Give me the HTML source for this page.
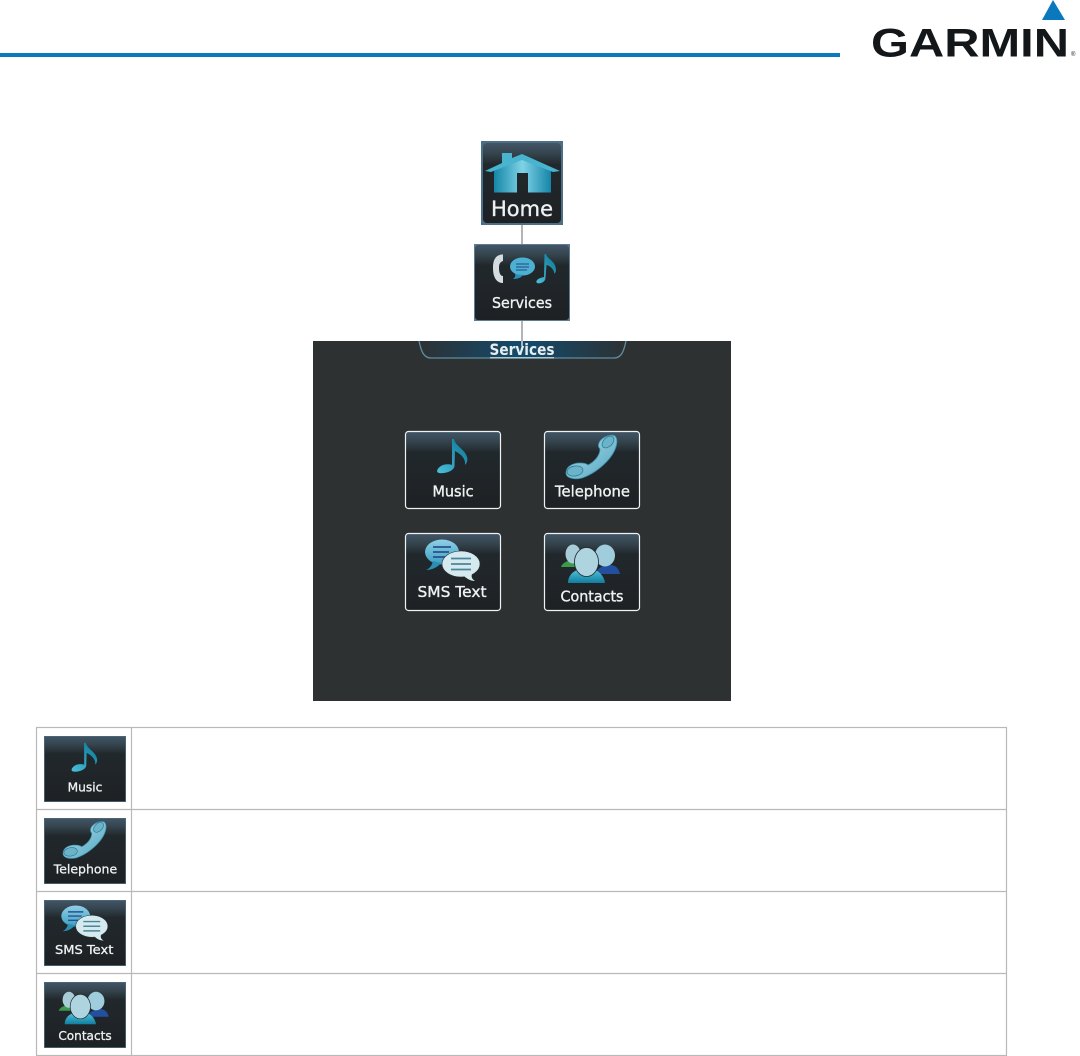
<!DOCTYPE html>
<html><head><meta charset="utf-8"><title>Services</title>
<style>html,body{margin:0;padding:0;background:#fff;width:1080px;height:1056px;overflow:hidden}svg{display:block}text{font-family:"DejaVu Sans","Liberation Sans",sans-serif}.l{fill:#eef2f2;stroke:#eef2f2;stroke-width:.35}</style>
</head><body>
<svg xmlns="http://www.w3.org/2000/svg" width="1080" height="1056" viewBox="0 0 1080 1056">
<defs>
<linearGradient id="btn" x1="0" y1="0" x2="0" y2="1"><stop offset="0" stop-color="#425668"/><stop offset=".12" stop-color="#36464f"/><stop offset=".27" stop-color="#21282c"/><stop offset="1" stop-color="#1e2124"/></linearGradient>
<linearGradient id="teal" x1="0" y1="0" x2="0" y2="1"><stop offset="0" stop-color="#57c3dc"/><stop offset="1" stop-color="#0f7f9f"/></linearGradient>
<linearGradient id="house" x1="0" y1="0" x2="1" y2="0"><stop offset="0" stop-color="#1585a8"/><stop offset=".5" stop-color="#7fd3e6"/><stop offset="1" stop-color="#1585a8"/></linearGradient>
<linearGradient id="pale" x1="0" y1="0" x2="1" y2="1"><stop offset="0" stop-color="#b4dce8"/><stop offset="1" stop-color="#4fa6c2"/></linearGradient>
<linearGradient id="bub" x1="0" y1="0" x2="0" y2="1"><stop offset="0" stop-color="#8fd0e6"/><stop offset="1" stop-color="#3a9fc4"/></linearGradient>
<linearGradient id="tab" x1="0" y1="0" x2="1" y2="0"><stop offset="0" stop-color="#2d3133"/><stop offset=".5" stop-color="#134b6e"/><stop offset="1" stop-color="#2d3133"/></linearGradient>
<linearGradient id="note" x1="0" y1="1" x2="1" y2="0"><stop offset="0" stop-color="#4cc0da"/><stop offset="1" stop-color="#0a7593"/></linearGradient>

<symbol id="i-music" viewBox="0 0 96 78" overflow="visible">
<path d="M47 8 L49 8 C50 15 60 18 62 26 C63 29 62 32 60 34 C61 28 56 23 50 20 L49.500 35 C49 40 40 43 34 42 C30 41 33 36 38 34 C41 33 45 33 47 34 Z" fill="url(#note)"/>
<text class="l" x="48" y="65.500" font-size="15" text-anchor="middle" textLength="41" lengthAdjust="spacingAndGlyphs">Music</text>
</symbol>
<symbol id="i-tel" viewBox="0 0 96 78" overflow="visible">
<path d="M22 42 C22 36 28 32 36 32 C40 32 43 33 44 34 C50 31 56 25 56 18 C54 16 54 13 56 10 C60 5 68 3 71 5 C75 9 72 18 68 24 C62 33 50 43 38 47 C30 49 22 47 22 42 Z" fill="url(#pale)" stroke="#3d93ad" stroke-width=".8"/>
<ellipse cx="64" cy="11" rx="7" ry="4.500" fill="#6db3c7" stroke="#2b7d98" stroke-width=".8" transform="rotate(-45 64 11)"/>
<ellipse cx="31" cy="40" rx="8" ry="5" fill="#6db3c7" stroke="#2b7d98" stroke-width=".8" transform="rotate(-10 31 40)"/>
<text class="l" x="48.500" y="65.500" font-size="15" text-anchor="middle" textLength="75" lengthAdjust="spacingAndGlyphs">Telephone</text>
</symbol>
<symbol id="i-sms" viewBox="0 0 96 78" overflow="visible">
<ellipse cx="37" cy="19" rx="17" ry="12.500" fill="url(#bub)"/>
<path d="M28 28 C27 33 24 36 21 37 C27 37 33 34 36 30 Z" fill="#2b8fb3"/>
<path d="M28 14 H46 M28 19 H44 M28 24 H42" stroke="#2d4f8c" stroke-width="1.700"/>
<ellipse cx="56" cy="31" rx="19" ry="13" fill="#d4eaee" stroke="#2d3133" stroke-width=".6"/>
<path d="M59 43 C62 46 66 48 70 48 C67 46 66 44 67 41 Z" fill="#d4eaee"/>
<path d="M46 25.500 H66 M46 31 H66 M46 36.500 H66" stroke="#4d8598" stroke-width="1.700"/>
<text class="l" x="47" y="64" font-size="15" text-anchor="middle" textLength="69" lengthAdjust="spacingAndGlyphs">SMS Text</text>
</symbol>
<symbol id="i-con" viewBox="0 0 96 78" overflow="visible">
<path d="M17 34 C18 30 24 27 30 27 L33 34 Z" fill="#3d9a4c"/>
<path d="M51 41 C54 34 60 32 66 32 C72 32 75 36 76 41 Z" fill="#234f9f"/>
<ellipse cx="29" cy="21" rx="7.500" ry="9.500" fill="#a7cdd9"/>
<ellipse cx="61" cy="22.500" rx="10" ry="11" fill="#a0cddb"/>
<path d="M24 50 C24 42 30 37 37 36 H47 C55 37 60 43 61 50 Z" fill="url(#teal)"/>
<ellipse cx="42.500" cy="29" rx="12" ry="14.500" fill="#aed4df" stroke="#20282c" stroke-width=".8"/>
<text class="l" x="48" y="68.500" font-size="15" text-anchor="middle" textLength="63" lengthAdjust="spacingAndGlyphs">Contacts</text>
</symbol>
</defs>

<!-- header -->
<rect x="0" y="53" width="840" height="4" fill="#0a7abf"/>
<path d="M1053 0 L1065 20 H1042 Z" fill="#0a78bd"/>
<text x="871" y="56.500" font-size="40" font-weight="bold" textLength="198" lengthAdjust="spacingAndGlyphs" fill="#14171a" style="font-family:'Liberation Sans',sans-serif">GARMIN</text>
<text x="1071" y="56" font-size="6" fill="#14171a" style="font-family:'Liberation Sans',sans-serif">®</text>

<!-- connectors -->
<rect x="521" y="225" width="2" height="19" fill="#b4b4b4"/>
<rect x="521" y="321" width="2" height="20" fill="#b4b4b4"/>

<!-- Home -->
<rect x="481" y="141" width="82" height="84" fill="#4d6f85"/>
<rect x="483" y="143" width="78" height="80" rx="4" fill="url(#btn)"/>
<path d="M494 170 L522 159 L551 170 V192.500 H528 V173 H517 V192.500 H494 Z" fill="url(#house)"/>
<path d="M502 163 V153 H512 V158 L522 154 L560 171 L553 172 L522 160 L491 172 L485 171 Z" fill="#49b4cf"/>
<text class="l" x="522" y="216" font-size="21" text-anchor="middle" textLength="62" lengthAdjust="spacingAndGlyphs">Home</text>

<!-- Services -->
<rect x="474" y="244" width="96" height="77" fill="#5d7c90"/>
<rect x="475" y="245" width="94" height="75" rx="3" fill="url(#btn)"/>
<path d="M503 254.500 C497 254.500 493 258 493 268 C493 278 497 283 503 283 V276 C500 276 499 272 499 268 C499 264 500 262 503 261 Z" fill="#d4dce0"/>
<ellipse cx="522.500" cy="266.500" rx="12.500" ry="9" fill="#4dafd2"/>
<path d="M515 274 C516 277 514 278 513 279 C517 279 521 278 523 275 Z" fill="#2a8fb5"/>
<path d="M516 264 H529 M516 267 H529 M516 270 H527" stroke="#1e4d80" stroke-width="1"/>
<path d="M544.500 254 L546 254 C547 259 556 261 556 270 C556 272 555 273 554.500 274 C554 270 551 266 546.500 265 L545.500 278 C545 283 539 284 537 283 C535 281 538 278 544 277 Z" fill="url(#note)"/>
<text class="l" x="522" y="308" font-size="15.500" text-anchor="middle" textLength="60" lengthAdjust="spacingAndGlyphs">Services</text>

<!-- screen -->
<rect x="313" y="341" width="418" height="360" fill="#2d3132"/>
<path d="M419 341 C421 350 423 358 431 358 H614 C622 358 624 350 626 341 Z" fill="url(#tab)"/>
<path d="M419 341 C421 350 423 358 431 358 H614 C622 358 624 350 626 341" fill="none" stroke="#5f8d9f" stroke-width="1.300"/>
<rect x="490" y="357" width="64" height="1.500" fill="#a9c9d6"/>
<rect x="521" y="341" width="2" height="5" fill="#b4b4b4"/>
<text x="522" y="355" font-size="16" text-anchor="middle" textLength="65" lengthAdjust="spacingAndGlyphs" fill="#e6eef0" font-weight="bold">Services</text>

<g fill="url(#btn)" stroke="#eef2f2" stroke-width="1.200">
<rect x="405.500" y="431.500" width="95" height="77" rx="3"/>
<rect x="544.500" y="431.500" width="95" height="77" rx="3"/>
<rect x="405.500" y="533.500" width="95" height="77" rx="3"/>
<rect x="544.500" y="533.500" width="95" height="77" rx="3"/>
</g>
<use href="#i-music" x="405" y="431" width="96" height="78"/>
<use href="#i-tel" x="544" y="431" width="96" height="78"/>
<use href="#i-sms" x="405" y="533" width="96" height="78"/>
<use href="#i-con" x="544" y="533" width="96" height="78"/>

<!-- table -->
<g fill="none" stroke="#b9b9b9" stroke-width="1.200">
<rect x="36.500" y="727.500" width="970" height="328"/>
<path d="M36.500 809.500 H1006.500 M36.500 891.500 H1006.500 M36.500 973.500 H1006.500 M131.500 727.500 V1055.500"/>
</g>
<g fill="url(#btn)">
<rect x="44" y="736" width="82" height="66"/>
<rect x="44" y="818" width="82" height="66"/>
<rect x="44" y="900" width="82" height="66"/>
<rect x="44" y="982" width="82" height="66"/>
</g>
<g fill="none" stroke="#4f6b7c" stroke-width=".8">
<rect x="44.400" y="736.400" width="81.200" height="65.200"/>
<rect x="44.400" y="818.400" width="81.200" height="65.200"/>
<rect x="44.400" y="900.400" width="81.200" height="65.200"/>
<rect x="44.400" y="982.400" width="81.200" height="65.200"/>
</g>
<use href="#i-music" x="44" y="736" width="82" height="66"/>
<use href="#i-tel" x="44" y="818" width="82" height="66"/>
<use href="#i-sms" x="44" y="900" width="82" height="66"/>
<use href="#i-con" x="44" y="982" width="82" height="66"/>
</svg>
</body></html>
